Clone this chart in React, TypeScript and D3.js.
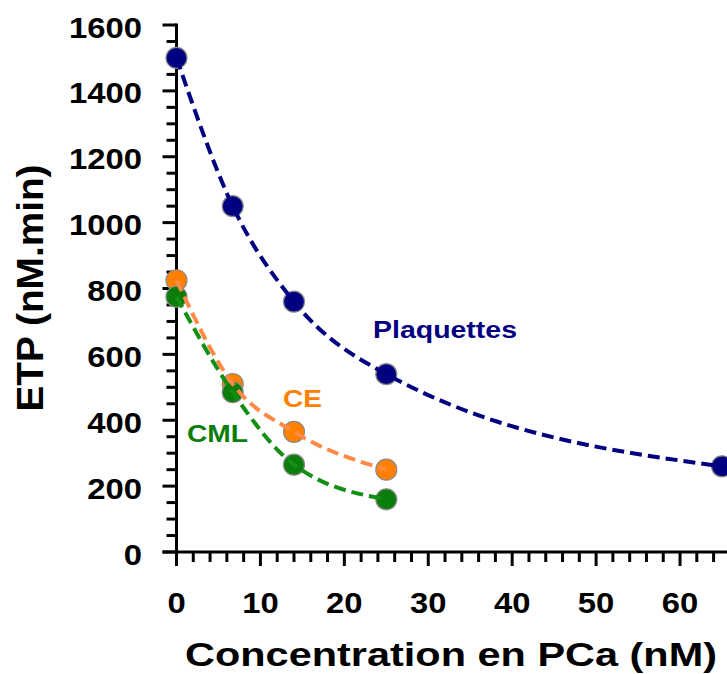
import React, { useEffect, useRef } from 'react'
import * as d3 from 'd3'

const W = 727
const H = 674

// données
const concPlaquettes = [0, 6.7, 14, 25, 65]
const etpPlaquettes = [1500, 1050, 760, 540, 260]
const concPlasma = [0, 6.7, 14, 25]
const etpCE = [825, 510, 365, 250]
const etpCML = [775, 485, 265, 160]

const xMajorTicks = [0, 10, 20, 30, 40, 50, 60]
const yMajorTicks = [0, 200, 400, 600, 800, 1000, 1200, 1400, 1600]

const NAVY = '#000080'
const ORANGE = '#ff8000'
const ORANGE_LINE = '#ff8a45'
const GREEN = '#0a7d0a'
const GREEN_LINE = '#139013'

const FONT = '"Liberation Sans", Arial, sans-serif'

export default function App() {
  const svgRef = useRef<SVGSVGElement>(null)

  useEffect(() => {
    document.body.style.margin = '0'
    if (!svgRef.current) return
    const svg = d3.select(svgRef.current)
    svg.selectAll('*').remove()

    const x = d3.scaleLinear().domain([0, 66]).range([176.5, 176.5 + 66 * 8.392])
    const y = d3.scaleLinear().domain([0, 1600]).range([552, 25])

    const axes = svg.append('g').attr('stroke', '#000').attr('stroke-width', 3)

    // axe Y
    axes.append('line')
      .attr('x1', x(0)).attr('x2', x(0))
      .attr('y1', y(1600) - 1.5).attr('y2', y(0))
    axes.selectAll('line.ytick')
      .data(d3.range(0, 1601, 50))
      .join('line')
      .attr('class', 'ytick')
      .attr('x1', (d) => x(0) - (d % 200 === 0 ? 14 : 10))
      .attr('x2', x(0))
      .attr('y1', (d) => y(d)).attr('y2', (d) => y(d))

    // axe X
    axes.append('line')
      .attr('x1', x(0) - 14).attr('x2', W)
      .attr('y1', y(0)).attr('y2', y(0))
    axes.selectAll('line.xtick')
      .data(d3.range(0, 67, 2))
      .join('line')
      .attr('class', 'xtick')
      .attr('x1', (d) => x(d)).attr('x2', (d) => x(d))
      .attr('y1', y(0))
      .attr('y2', (d) => y(0) + (d % 10 === 0 ? 14 : 10))

    const labels = svg.append('g')
      .attr('font-family', FONT)
      .attr('font-weight', 'bold')
      .attr('fill', '#000')

    labels.selectAll('text.ylab')
      .data(yMajorTicks)
      .join('text')
      .attr('class', 'ylab')
      .attr('x', 142)
      .attr('y', (d) => y(d) + 12.5)
      .attr('text-anchor', 'end')
      .attr('font-size', 29)
      .attr('textLength', (d) => String(d).length * 18.25)
      .attr('lengthAdjust', 'spacingAndGlyphs')
      .text((d) => d)

    labels.selectAll('text.xlab')
      .data(xMajorTicks)
      .join('text')
      .attr('class', 'xlab')
      .attr('x', (d) => x(d))
      .attr('y', 613)
      .attr('text-anchor', 'middle')
      .attr('font-size', 29)
      .attr('textLength', (d) => String(d).length * 18.25)
      .attr('lengthAdjust', 'spacingAndGlyphs')
      .text((d) => d)

    labels.append('text')
      .attr('x', 185).attr('y', 666)
      .attr('font-size', 34)
      .attr('textLength', 532)
      .attr('lengthAdjust', 'spacingAndGlyphs')
      .text('Concentration en PCa (nM)')

    labels.append('text')
      .attr('transform', 'translate(43,288) rotate(-90)')
      .attr('text-anchor', 'middle')
      .attr('font-size', 36)
      .attr('textLength', 247)
      .attr('lengthAdjust', 'spacingAndGlyphs')
      .text('ETP (nM.min)')

    // points
    const dots = (xs: number[], ys: number[], color: string) => {
      svg.append('g')
        .selectAll('circle')
        .data(ys.map((v, i) => [xs[i], v]))
        .join('circle')
        .attr('cx', (d) => x(d[0]))
        .attr('cy', (d) => y(d[1]))
        .attr('r', 10.5)
        .attr('fill', color)
        .attr('stroke', '#8a8a8a')
        .attr('stroke-width', 1.2)
    }
    dots(concPlasma, etpCE, ORANGE)
    dots(concPlasma, etpCML, GREEN)
    dots(concPlaquettes, etpPlaquettes, NAVY)

    // courbes en pointillé
    const curve = (xs: number[], ys: number[], color: string) => {
      const line = d3.line<number>()
        .x((_, i) => x(xs[i]))
        .y((d) => y(d))
        .curve(d3.curveMonotoneX)
      svg.append('path')
        .attr('d', line(ys))
        .attr('fill', 'none')
        .attr('stroke', color)
        .attr('stroke-width', 4)
        .attr('stroke-dasharray', '12 6')
    }
    curve(concPlaquettes, etpPlaquettes, NAVY)
    curve(concPlasma, etpCML, GREEN_LINE)
    curve(concPlasma, etpCE, ORANGE_LINE)

    // étiquettes des séries
    const seriesLabel = (text: string, lx: number, ly: number, len: number, color: string) => {
      svg.append('text')
        .attr('x', lx).attr('y', ly)
        .attr('font-family', FONT)
        .attr('font-weight', 'bold')
        .attr('font-size', 23)
        .attr('fill', color)
        .attr('textLength', len)
        .attr('lengthAdjust', 'spacingAndGlyphs')
        .text(text)
    }
    seriesLabel('Plaquettes', 373, 338, 144, NAVY)
    seriesLabel('CE', 283, 407, 39, ORANGE)
    seriesLabel('CML', 187, 442, 61, GREEN)
  }, [])

  return <svg ref={svgRef} width={W} height={H} style={{ display: 'block', background: '#fff' }} />
}
